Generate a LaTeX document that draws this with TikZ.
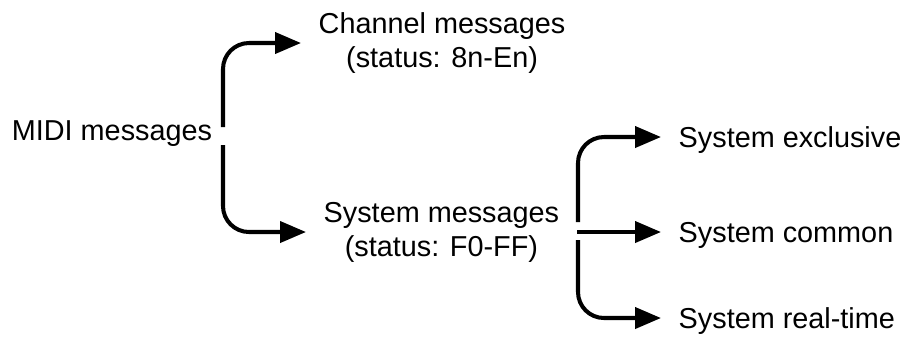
\documentclass[tikz,border=0pt]{standalone}
\usepackage{fontspec}
\setmainfont{Liberation Sans}
\usetikzlibrary{arrows.meta}
\begin{document}
\begin{tikzpicture}[x=0.1mm,y=-0.1mm,
  every node/.style={font=\fontsize{8.2pt}{9.7pt}\selectfont, inner xsep=1.7mm, inner ysep=0pt},
  leaf/.style={anchor=west, text depth=0pt},
  branch/.style={line width=1.15pt, rounded corners=2.6mm, -{Triangle[length=2.6mm,width=2.1mm]}}]
\useasboundingbox (0,0) rectangle (906,339);
\node (1) at (112,134) {MIDI messages};
\node[anchor=west, align=center] (2) at (301,43) {Channel messages\\(status: 8n-En)};
\node[anchor=west, align=center] (3) at (306,232) {System messages\\(status: F0-FF)};
\node[leaf] (4) at (661,137) {System exclusive};
\node[leaf] (5) at (661,232) {System common};
\node[leaf] (6) at (661,318) {System real-time};
\coordinate (1a) at (223,127);
\coordinate (1b) at (223,145);
\coordinate (3a) at (578,222);
\coordinate (3m) at (577,232);
\coordinate (3b) at (578,240);
\path[draw,branch] (1a) |- (2.west);
\path[draw,branch] (1b) |- (3.west);
\path[draw,branch] (3a) |- (4.west);
\path[draw,branch] (3m) -- (5.west);
\path[draw,branch] (3b) |- (6.west);
\end{tikzpicture}
\end{document}
